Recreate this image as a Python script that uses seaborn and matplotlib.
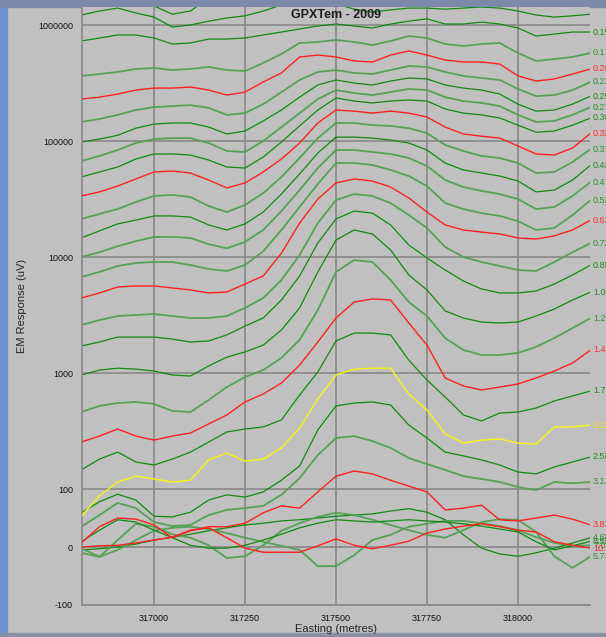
import matplotlib

matplotlib.use("Agg")
import matplotlib.pyplot as plt
from matplotlib.patches import Rectangle
from matplotlib.ticker import NullLocator
import seaborn as sns


# station eastings (metres), 50 m spacing
EASTING = [316800, 316850, 316900, 316950, 317000, 317050, 317100, 317150,
           317200, 317250, 317300, 317350, 317400, 317450, 317500, 317550,
           317600, 317650, 317700, 317750, 317800, 317850, 317900, 317950,
           318000, 318050, 318100, 318150, 318200]

# EM response per channel (uV)
CH_A = [2.44e6, 2.21e6, 2.0e6, 1.74e6, 1.46e6, 1.24e6, 1.32e6, 1.71e6, 1.92e6, 2.21e6,
        2.44e6, 2.7e6, 2.7e6, 2.7e6, 2.7e6, 2.7e6, 2.7e6, 2.7e6, 2.7e6, 2.7e6,
        2.7e6, 2.7e6, 2.7e6, 2.7e6, 2.7e6, 2.7e6, 2.7e6, 2.44e6, 2.44e6]
CH_B = [1.22e6, 1.32e6, 1.40e6, 1.27e6, 1.17e6, 9.61e5, 1.0e6, 1.08e6, 1.15e6, 1.20e6,
        1.32e6, 1.49e6, 1.58e6, 1.58e6, 1.52e6, 1.37e6, 1.29e6, 1.35e6, 1.40e6, 1.40e6,
        1.37e6, 1.40e6, 1.43e6, 1.40e6, 1.32e6, 1.22e6, 1.17e6, 1.20e6, 1.24e6]
CH_015 = [7.28e5, 7.73e5, 8.2e5, 8.2e5, 7.73e5, 6.86e5, 7.0e5, 7.57e5, 7.57e5, 7.73e5,
          8.2e5, 8.7e5, 9.24e5, 9.8e5, 1.02e6, 9.8e5, 9.42e5, 1.02e6, 1.08e6, 1.13e6,
          1.02e6, 1.02e6, 1.06e6, 1.02e6, 9.42e5, 8.04e5, 8.36e5, 8.7e5, 8.7e5]
CH_017 = [3.64e5, 3.78e5, 3.94e5, 4.18e5, 4.26e5, 4.09e5, 4.18e5, 4.35e5, 4.09e5, 4.01e5,
          4.71e5, 5.63e5, 7.0e5, 7.14e5, 7.43e5, 7.14e5, 6.72e5, 7.28e5, 8.04e5, 7.73e5,
          6.86e5, 6.59e5, 6.86e5, 7.0e5, 5.74e5, 4.90e5, 5.09e5, 5.30e5, 5.74e5]
CH_020 = [2.30e5, 2.39e5, 2.54e5, 2.75e5, 2.86e5, 2.86e5, 2.92e5, 2.75e5, 2.49e5, 2.64e5,
          3.23e5, 3.86e5, 5.30e5, 5.51e5, 5.30e5, 4.90e5, 4.80e5, 5.51e5, 5.97e5, 5.51e5,
          4.99e5, 4.80e5, 4.80e5, 4.61e5, 3.64e5, 3.29e5, 3.43e5, 3.78e5, 4.18e5]
CH_022 = [1.46e5, 1.55e5, 1.68e5, 1.85e5, 1.96e5, 2.0e5, 2.04e5, 1.93e5, 1.68e5, 1.74e5,
          2.08e5, 2.64e5, 3.36e5, 3.94e5, 4.09e5, 3.86e5, 3.78e5, 4.09e5, 4.43e5, 4.35e5,
          3.94e5, 3.64e5, 3.49e5, 3.36e5, 2.81e5, 2.44e5, 2.49e5, 2.75e5, 3.23e5]
CH_025 = [9.8e4, 1.04e5, 1.12e5, 1.29e5, 1.40e5, 1.43e5, 1.43e5, 1.32e5, 1.15e5, 1.22e5,
          1.49e5, 1.85e5, 2.39e5, 3.04e5, 3.36e5, 3.16e5, 3.04e5, 3.29e5, 3.49e5, 3.43e5,
          3.04e5, 2.86e5, 2.75e5, 2.54e5, 2.08e5, 1.81e5, 1.85e5, 2.08e5, 2.44e5]
CH_027 = [6.72e4, 7.43e4, 8.36e4, 9.61e4, 1.04e5, 1.06e5, 1.06e5, 9.61e4, 8.2e4, 8.04e4,
          1.0e5, 1.32e5, 1.74e5, 2.30e5, 2.75e5, 2.59e5, 2.49e5, 2.64e5, 2.81e5, 2.75e5,
          2.39e5, 2.21e5, 2.13e5, 2.0e5, 1.68e5, 1.46e5, 1.49e5, 1.68e5, 1.96e5]
CH_030 = [4.90e4, 5.41e4, 5.97e4, 7.0e4, 7.73e4, 7.73e4, 7.57e4, 6.86e4, 5.97e4, 5.85e4,
          7.28e4, 9.8e4, 1.35e5, 1.85e5, 2.35e5, 2.21e5, 2.13e5, 2.21e5, 2.26e5, 2.21e5,
          1.89e5, 1.74e5, 1.68e5, 1.58e5, 1.37e5, 1.19e5, 1.22e5, 1.37e5, 1.58e5]
CH_032 = [3.36e4, 3.64e4, 4.09e4, 4.71e4, 5.41e4, 5.51e4, 5.30e4, 4.61e4, 3.94e4, 4.35e4,
          5.41e4, 7.0e4, 9.61e4, 1.43e5, 1.85e5, 1.81e5, 1.74e5, 1.81e5, 1.74e5, 1.61e5,
          1.32e5, 1.15e5, 1.10e5, 1.06e5, 9.06e4, 7.73e4, 7.57e4, 8.7e4, 1.17e5]
CH_037 = [2.13e4, 2.35e4, 2.59e4, 2.98e4, 3.36e4, 3.43e4, 3.29e4, 2.75e4, 2.44e4, 2.81e4,
          3.56e4, 4.90e4, 7.14e4, 1.06e5, 1.43e5, 1.43e5, 1.37e5, 1.35e5, 1.29e5, 1.17e5,
          9.24e4, 8.2e4, 7.43e4, 7.14e4, 6.46e4, 5.30e4, 5.41e4, 6.59e4, 8.53e4]
CH_042 = [1.46e4, 1.68e4, 1.93e4, 2.08e4, 2.26e4, 2.26e4, 2.21e4, 1.89e4, 1.71e4, 1.93e4,
          2.44e4, 3.49e4, 5.20e4, 7.88e4, 1.08e5, 1.08e5, 1.06e5, 1.02e5, 9.61e4, 8.36e4,
          6.46e4, 5.63e4, 5.30e4, 4.99e4, 4.52e4, 3.64e4, 3.78e4, 4.61e4, 6.21e4]
CH_047 = [1.0e4, 1.10e4, 1.24e4, 1.37e4, 1.49e4, 1.49e4, 1.46e4, 1.29e4, 1.19e4, 1.35e4,
          1.71e4, 2.49e4, 3.78e4, 5.85e4, 8.36e4, 8.36e4, 8.04e4, 7.73e4, 7.14e4, 6.09e4,
          4.61e4, 4.01e4, 3.71e4, 3.49e4, 3.16e4, 2.59e4, 2.70e4, 3.36e4, 4.43e4]
CH_052 = [6.72e3, 7.43e3, 8.36e3, 8.88e3, 9.06e3, 9.06e3, 8.53e3, 7.88e3, 7.57e3, 8.53e3,
          1.12e4, 1.71e4, 2.70e4, 4.26e4, 6.46e4, 6.46e4, 6.21e4, 5.63e4, 4.99e4, 4.09e4,
          2.92e4, 2.59e4, 2.39e4, 2.26e4, 2.04e4, 1.71e4, 1.78e4, 2.30e4, 3.10e4]
CH_062 = [4.43e3, 4.90e3, 5.51e3, 5.63e3, 5.63e3, 5.41e3, 5.20e3, 4.90e3, 4.99e3, 5.85e3,
          6.86e3, 1.08e4, 1.96e4, 3.16e4, 4.35e4, 4.71e4, 4.52e4, 4.01e4, 3.23e4, 2.44e4,
          1.89e4, 1.71e4, 1.64e4, 1.58e4, 1.46e4, 1.43e4, 1.52e4, 1.71e4, 2.08e4]
CH_072 = [2.59e3, 2.86e3, 3.10e3, 3.16e3, 3.23e3, 3.10e3, 2.98e3, 2.98e3, 3.10e3, 3.64e3,
          4.43e3, 6.34e3, 1.04e4, 1.96e4, 3.10e4, 3.49e4, 3.36e4, 2.92e4, 2.30e4, 1.78e4,
          1.22e4, 1.0e4, 9.06e3, 8.36e3, 7.73e3, 7.57e3, 9.06e3, 1.10e4, 1.32e4]
CH_085 = [1.71e3, 1.85e3, 2.04e3, 2.04e3, 2.04e3, 1.96e3, 1.85e3, 1.89e3, 2.13e3, 2.54e3,
          2.98e3, 4.26e3, 6.86e3, 1.32e4, 2.13e4, 2.49e4, 2.39e4, 1.89e4, 1.27e4, 9.8e3,
          7.73e3, 6.21e3, 5.30e3, 4.90e3, 4.90e3, 5.09e3, 5.85e3, 7.0e3, 8.53e3]
CH_100 = [961, 1.06e3, 1.10e3, 1.08e3, 1.04e3, 961, 942, 1.15e3, 1.37e3, 1.52e3,
          1.74e3, 2.35e3, 3.64e3, 7.43e3, 1.40e4, 1.71e4, 1.58e4, 1.15e4, 7.0e3, 5.20e3,
          3.43e3, 2.98e3, 2.75e3, 2.70e3, 2.75e3, 3.10e3, 3.56e3, 4.26e3, 4.99e3]
CH_120 = [461, 520, 551, 563, 541, 471, 461, 585, 757, 924,
          1.06e3, 1.35e3, 1.93e3, 3.49e3, 7.43e3, 9.42e3, 9.06e3, 6.34e3, 4.09e3, 3.10e3,
          2.0e3, 1.58e3, 1.43e3, 1.43e3, 1.49e3, 1.68e3, 2.0e3, 2.44e3, 2.98e3]
CH_145 = [254, 286, 329, 286, 264, 286, 304, 364, 435, 563,
          659, 820, 1.17e3, 1.85e3, 2.98e3, 4.09e3, 4.35e3, 4.26e3, 2.70e3, 1.74e3,
          906, 773, 714, 757, 804, 906, 1.04e3, 1.22e3, 1.58e3]
CH_175 = [146, 181, 208, 171, 161, 181, 208, 254, 310, 329,
          343, 394, 646, 1.02e3, 1.89e3, 2.21e3, 2.21e3, 2.13e3, 1.29e3, 870,
          621, 435, 386, 452, 461, 499, 574, 634, 700]
CH_213 = [53, 88, 115, 129, 122, 115, 119, 178, 204, 174,
          181, 226, 336, 597, 961, 1.08e3, 1.10e3, 1.10e3, 659, 480,
          298, 249, 264, 270, 249, 244, 343, 343, 356]
CH_258 = [59, 78, 91, 81, 53, 52, 60, 81, 90, 86,
          95, 119, 158, 323, 520, 551, 563, 530, 356, 275,
          208, 193, 178, 161, 140, 135, 155, 171, 189]
CH_313 = [35, 55, 76, 67, 43, 36, 38, 55, 64, 67,
          71, 90, 124, 196, 275, 286, 259, 226, 185, 164,
          146, 129, 122, 115, 104, 98, 115, 112, 115]
CH_383 = [7, 35, 50, 48, 38, 16, 28, 35, 35, 41,
          59, 71, 67, 95, 129, 143, 135, 119, 106, 95,
          64, 67, 72, 47, 45, 50, 55, 48, 38]
CH_468 = [-5, -3, 0, 5, 12, 17, 22, 28, 33, 38,
          41, 45, 47, 50, 53, 55, 57, 62, 66, 60,
          47, 21, -2, -12, -16, -10, -2, 7, 16]
CH_573 = [-2, -17, 12, 40, 35, 22, 16, 3, -19, -16,
          3, 28, 41, 52, 59, 55, 47, 38, 29, 21,
          16, 29, 43, 48, 47, 26, -16, -36, -16]
CH_700 = [-10, -17, -5, 12, 28, 33, 35, 31, 24, 16,
          9, 2, -5, -33, -33, -14, 12, 21, 35, 40,
          45, 45, 41, 36, 29, 17, 7, 2, 3]
CH_855 = [9, 29, 47, 43, 29, 16, 3, -2, -2, 3,
          12, 22, 33, 41, 47, 45, 43, 45, 47, 45,
          43, 40, 36, 31, 26, 9, -5, 2, 10]
CH_1045 = [0, 2, 3, 7, 12, 17, 29, 33, 16, -2,
           -9, -9, -9, 2, 14, 3, -3, 3, 10, 24,
           31, 36, 40, 35, 29, 26, 9, 3, -2]

CHANNELS = [
    ("", CH_A, "g1"), ("", CH_B, "g1"),
    ("0.15", CH_015, "g1"), ("0.17", CH_017, "g2"), ("0.20", CH_020, "r"),
    ("0.22", CH_022, "g2"), ("0.25", CH_025, "g1"), ("0.27", CH_027, "g2"),
    ("0.30", CH_030, "g1"), ("0.32", CH_032, "r"), ("0.37", CH_037, "g2"),
    ("0.42", CH_042, "g1"), ("0.47", CH_047, "g2"), ("0.52", CH_052, "g2"),
    ("0.62", CH_062, "r"), ("0.72", CH_072, "g2"), ("0.85", CH_085, "g1"),
    ("1.00", CH_100, "g1"), ("1.20", CH_120, "g2"), ("1.45", CH_145, "r"),
    ("1.75", CH_175, "g1"), ("2.13", CH_213, "y"), ("2.58", CH_258, "g1"),
    ("3.13", CH_313, "g2"), ("3.83", CH_383, "r"), ("4.68", CH_468, "g1"),
    ("5.73", CH_573, "g2"), ("7.00", CH_700, "g2"), ("8.55", CH_855, "g1"),
    ("10.45", CH_1045, "r"),
]

LINE_COLORS = {"g1": "#108a10", "g2": "#55a155", "r": "#ff2020", "y": "#f2f21c"}
LINE_WIDTHS = {"g1": 0.9, "g2": 1.3, "r": 1.0, "y": 1.1}
LABEL_COLORS = {"g1": "#1f8c1f", "g2": "#2f902f", "r": "#ff2a2a", "y": "#e8e800"}

BG = "#c0c0c0"
GRID = "#8c8c8c"


def main() -> None:
    sns.set_style("white")
    plt.rcParams["font.family"] = ["Liberation Sans", "DejaVu Sans"]

    fig = plt.figure(figsize=(6.06, 6.37), dpi=100, facecolor=BG)
    ax = fig.add_axes([82 / 606, 32 / 637, 508 / 606, 598 / 637])
    ax.set_facecolor(BG)

    ax.set_yscale("symlog", linthresh=100, linscale=0.45)
    ax.set_ylim(-100, 1.43e6)
    ax.set_xlim(316802, 318198)

    # green lines underneath, red / yellow on top
    ordered = [c for c in CHANNELS if c[2].startswith("g")] + \
              [c for c in CHANNELS if not c[2].startswith("g")]
    for label, values, kind in ordered:
        sns.lineplot(x=EASTING, y=values, color=LINE_COLORS[kind],
                     linewidth=LINE_WIDTHS[kind], ax=ax, legend=False,
                     zorder=3 if kind in ("r", "y") else 2)

    trans = ax.get_yaxis_transform()
    for label, values, kind in CHANNELS:
        if not label:
            continue
        ax.text(1.006, values[-1], label, transform=trans, color=LABEL_COLORS[kind],
                fontsize=6.5, va="center", ha="left", clip_on=False)

    ax.set_yticks([-100, 0, 100, 1000, 10000, 100000, 1000000])
    ax.set_yticklabels(["-100", "0", "100", "1000", "10000", "100000", "1000000"])
    ax.yaxis.set_minor_locator(NullLocator())
    ax.set_xticks([317000, 317250, 317500, 317750, 318000])
    ax.set_xticklabels(["317000", "317250", "317500", "317750", "318000"])

    ax.grid(True, color=GRID, linewidth=1.3)
    ax.set_axisbelow(True)
    for side in ("top", "right"):
        ax.spines[side].set_visible(False)
    for side in ("left", "bottom"):
        ax.spines[side].set_color(GRID)
        ax.spines[side].set_linewidth(1.3)
    ax.tick_params(axis="both", length=4, width=1, color=GRID, labelsize=6.5,
                   labelcolor="#111111", pad=2.5, direction="out")

    ax.set_xlabel("Easting (metres)", fontsize=8, labelpad=1)
    ax.set_ylabel("EM Response (uV)", fontsize=8, labelpad=8)
    fig.text(336 / 606, 1 - 15 / 637, "GPXTem - 2009", ha="center", va="center",
             fontsize=9, fontweight="bold", color="#1c1c1c")

    # window frame around the screenshot
    fig.patches.append(Rectangle((0, 0), 7 / 606, 1, transform=fig.transFigure,
                                 color="#6c92cf", zorder=-1))
    fig.patches.append(Rectangle((0, 1 - 7 / 637), 1, 7 / 637, transform=fig.transFigure,
                                 color="#7b8aa8", zorder=-1))
    fig.patches.append(Rectangle((0, 0), 1, 4 / 637, transform=fig.transFigure,
                                 color="#8590a8", zorder=-1))

    fig.savefig("out.png", dpi=100, facecolor=BG)
    plt.close(fig)


if __name__ == "__main__":
    main()
